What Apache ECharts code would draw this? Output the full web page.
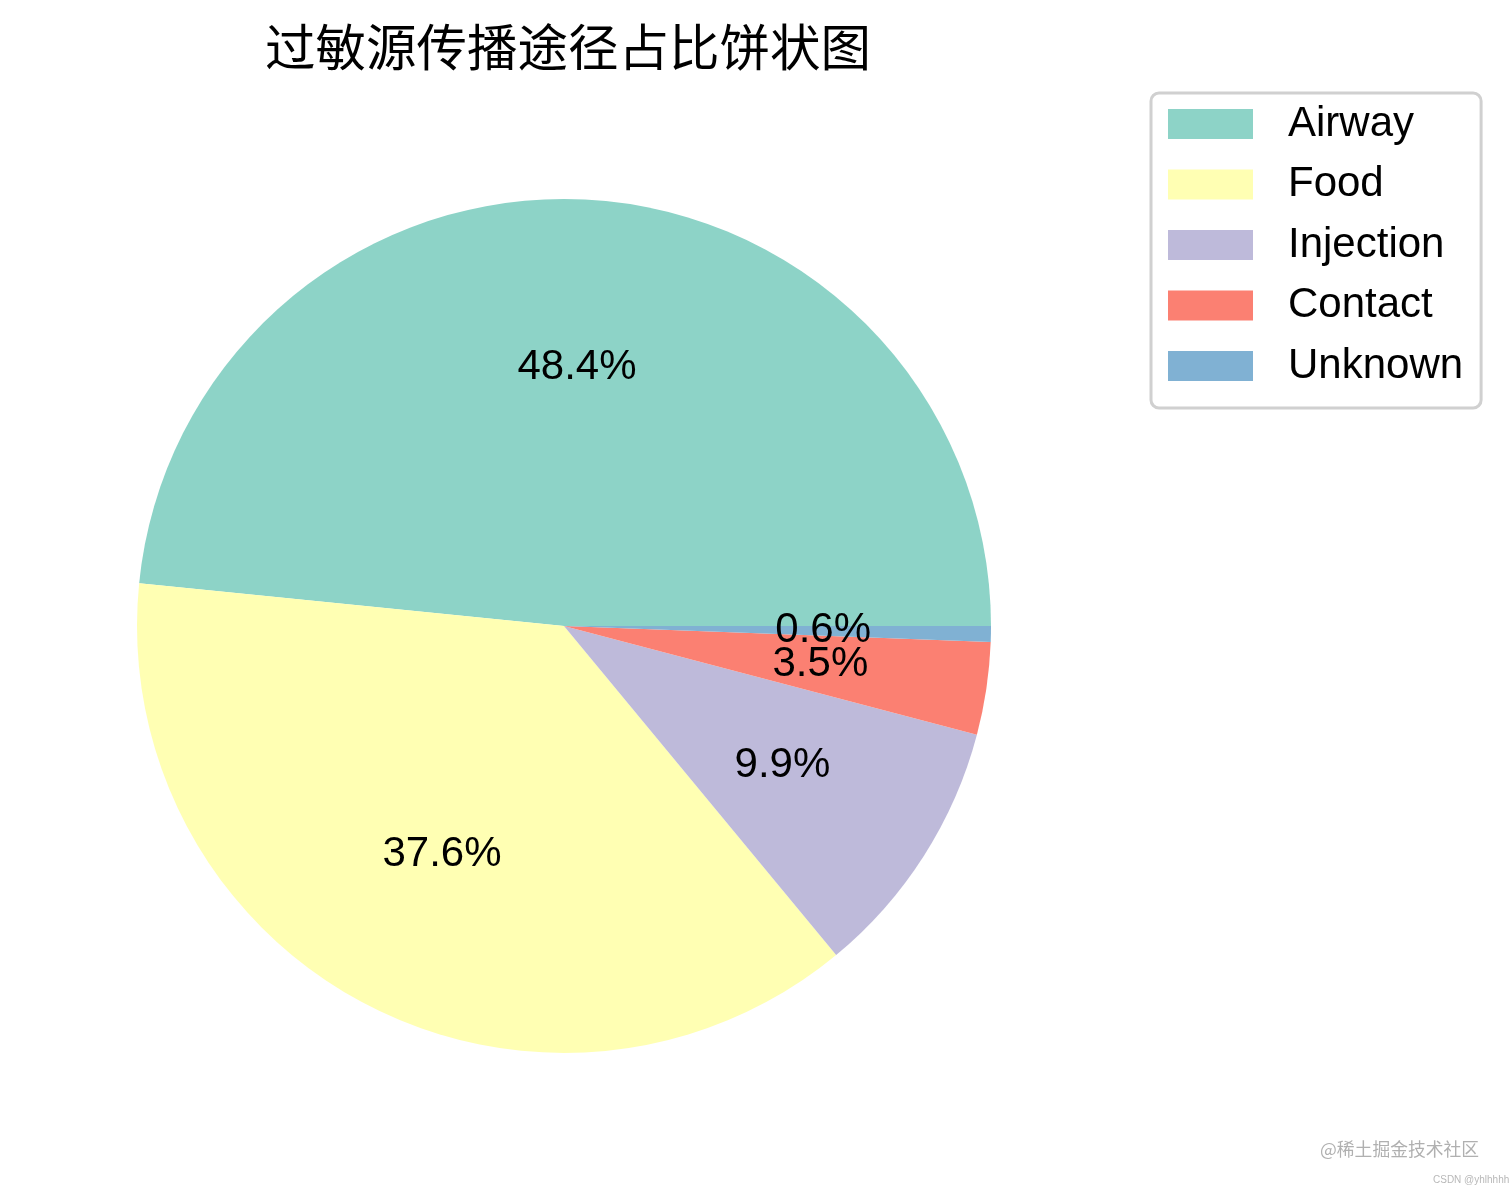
<!DOCTYPE html>
<html>
<head>
<meta charset="utf-8">
<script src="https://cdn.jsdelivr.net/npm/echarts@6/dist/echarts.min.js"></script>
<style>
html,body{margin:0;padding:0;background:#fff;}
#chart{width:1512px;height:1191px;}
</style>
</head>
<body>
<div id="chart"></div>
<script>
var categories = ['Airway', 'Food', 'Injection', 'Contact', 'Unknown'];
var values = [48.4, 37.6, 9.9, 3.5, 0.6];
var colors = ['#8dd3c7', '#ffffb3', '#bebada', '#fb8072', '#80b1d3'];
var titleText = '过敏源传播途径占比饼状图';

var chart = echarts.init(document.getElementById('chart'));
var pieData = categories.map(function (c, i) {
  return { name: c, value: values[i], itemStyle: { color: colors[i] } };
});
function labelData(onlyIdx) {
  return categories.map(function (c, i) {
    var show = onlyIdx === null ? i !== categories.length - 1 : i === onlyIdx;
    return { name: c, value: values[i], itemStyle: { color: 'rgba(0,0,0,0)' }, label: { show: show } };
  });
}
var R = 427;
var labelSeries = function (data) {
  return {
    type: 'pie', center: [564, 626], radius: [0, R * 1.2],
    startAngle: 0, clockwise: false,
    percentPrecision: 1,
    avoidLabelOverlap: false,
    minShowLabelAngle: 0,
    labelLayout: { hideOverlap: false },
    label: { show: true, position: 'inside', formatter: '{d}%', fontFamily: 'Liberation Sans', fontSize: 42, color: '#000', textBorderWidth: 0 },
    labelLine: { show: false },
    emphasis: { disabled: true },
    silent: true,
    data: data
  };
};
chart.setOption({
  backgroundColor: '#fff',
  animation: false,
  title: {
    text: titleText,
    left: 563, top: 17, textAlign: 'center',
    textStyle: { fontFamily: 'Noto Sans CJK SC', fontSize: 50.5, fontWeight: 'normal', color: '#000' }
  },
  legend: {
    orient: 'vertical',
    left: 1151, top: 93,
    data: categories,
    icon: 'rect',
    itemWidth: 85, itemHeight: 30, itemGap: 18.5,
    padding: [10, 18, 21, 17],
    borderColor: '#d0d0d0', borderWidth: 3, borderRadius: 8,
    selectedMode: false,
    textStyle: { fontFamily: 'Liberation Sans', fontSize: 42, color: '#000', padding: [0, 0, 0, 30] }
  },
  graphic: [
    { type: 'text', left: 1320, top: 1140, style: { text: '@稀土掘金技术社区', fontFamily: 'Noto Sans CJK SC', fontSize: 17.8, fill: '#b0b0b0' } },
    { type: 'text', left: 1433, top: 1175, style: { text: 'CSDN @yhlhhhh', fontFamily: 'Liberation Sans', fontSize: 10, fill: '#b8b8b8' } }
  ],
  series: [
    {
      type: 'pie', center: [564, 626], radius: [0, R],
      startAngle: 0, clockwise: false,
      label: { show: false }, labelLine: { show: false },
      emphasis: { disabled: true },
      silent: true,
      data: pieData
    },
    labelSeries(labelData(null)),
    labelSeries(labelData(categories.length - 1))
  ]
});
</script>
</body>
</html>
